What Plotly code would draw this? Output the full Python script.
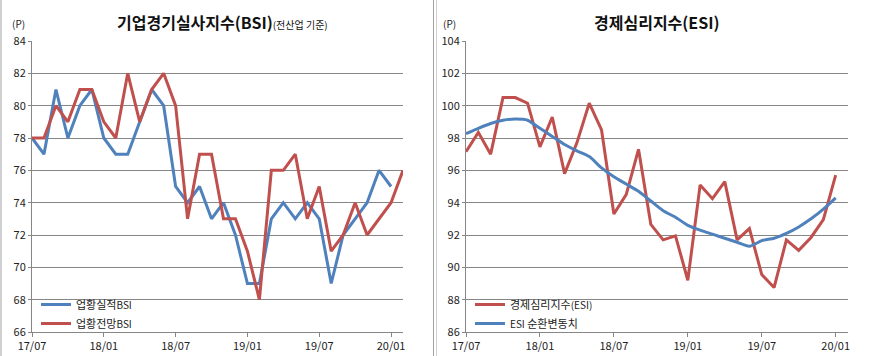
import plotly.graph_objects as go

months = ["17/07","17/08","17/09","17/10","17/11","17/12","18/01","18/02","18/03","18/04","18/05","18/06",
          "18/07","18/08","18/09","18/10","18/11","18/12","19/01","19/02","19/03","19/04","19/05","19/06",
          "19/07","19/08","19/09","19/10","19/11","19/12","20/01","20/02"]
tick_labels = ["17/07","18/01","18/07","19/01","19/07","20/01"]

bsi_actual = [78,77,81,78,80,81,78,77,77,79,81,80,75,74,75,73,74,72,69,69,73,74,73,74,73,69,72,73,74,76,75]
bsi_outlook = [78,78,80,79,81,81,79,78,82,79,81,82,80,73,77,77,73,73,71,68,76,76,77,73,75,71,72,74,72,73,74,76]

esi = [97.15,98.35,97.0,100.5,100.5,100.15,97.45,99.3,95.8,97.7,100.15,98.5,93.3,94.5,97.3,92.65,91.7,91.95,
       89.2,95.1,94.25,95.3,91.7,92.4,89.55,88.75,91.7,91.05,91.85,92.95,95.7]
esi_trend = [98.27,98.6,98.9,99.1,99.17,99.1,98.6,98.1,97.6,97.2,96.85,96.15,95.6,95.15,94.7,94.1,93.5,93.1,
             92.6,92.3,92.05,91.8,91.55,91.3,91.65,91.8,92.1,92.5,93.0,93.6,94.3]

BLUE = "#4F81BD"
RED = "#C0504D"
FONT = "Noto Sans CJK KR"
W, H = 869, 356

def px(x):
    return x / W

def py(y):
    return 1 - y / H

xdom1 = [px(32), px(403)]
xdom2 = [px(466), px(848)]
ydom = [py(332), py(41)]

fig = go.Figure()
fig.add_trace(go.Scatter(x=list(range(len(bsi_actual))), y=bsi_actual, mode="lines", name="업황실적<span style='font-size:10px'>BSI</span>",
                         line=dict(color=BLUE, width=3), xaxis="x", yaxis="y", legend="legend"))
fig.add_trace(go.Scatter(x=list(range(len(bsi_outlook))), y=bsi_outlook, mode="lines", name="업황전망<span style='font-size:10px'>BSI</span>",
                         line=dict(color=RED, width=3), xaxis="x", yaxis="y", legend="legend"))
fig.add_trace(go.Scatter(x=list(range(len(esi))), y=esi, mode="lines", name="경제심리지수<span style='font-size:10px'>(ESI)</span>",
                         line=dict(color=RED, width=3), xaxis="x2", yaxis="y2", legend="legend2"))
fig.add_trace(go.Scatter(x=list(range(len(esi_trend))), y=esi_trend, mode="lines", name="<span style='font-size:10px'>ESI</span> 순환변동치",
                         line=dict(color=BLUE, width=3, shape="spline", smoothing=0.6), xaxis="x2", yaxis="y2", legend="legend2"))

tickvals = [months.index(t) for t in tick_labels]
xcommon = dict(range=[0, 31], tickvals=tickvals, ticktext=tick_labels, showgrid=False, zeroline=False,
               showline=True, linecolor="#868686", linewidth=1, ticks="outside", ticklen=4, tickcolor="#868686",
               tickfont=dict(size=11, color="#222", family=FONT), automargin=False)
ycommon = dict(showgrid=True, gridcolor="#868686", gridwidth=1, zeroline=False, showline=True,
               linecolor="#868686", linewidth=1, ticks="outside", ticklen=3, tickcolor="#868686",
               tickfont=dict(size=11, color="#222", family=FONT), dtick=2, automargin=False)

fig.update_layout(
    width=W, height=H, margin=dict(l=0, r=0, t=0, b=0, autoexpand=False),
    paper_bgcolor="white", plot_bgcolor="white",
    font=dict(family=FONT, color="#222"),
    xaxis=dict(domain=xdom1, anchor="y", **xcommon),
    yaxis=dict(domain=ydom, anchor="x", range=[66, 84], **ycommon),
    xaxis2=dict(domain=xdom2, anchor="y2", **xcommon),
    yaxis2=dict(domain=ydom, anchor="x2", range=[86, 104], **ycommon),
    legend=dict(x=px(36), y=py(290), xanchor="left", yanchor="top", bgcolor="rgba(0,0,0,0)",
                font=dict(size=11, family=FONT), tracegroupgap=0, itemwidth=30),
    legend2=dict(x=px(470), y=py(290), xanchor="left", yanchor="top", bgcolor="rgba(0,0,0,0)",
                 font=dict(size=11, family=FONT), tracegroupgap=0, itemwidth=30),
    showlegend=True,
)

fig.add_annotation(xref="paper", yref="paper", x=px(222), y=py(22), xanchor="center", yanchor="middle",
                   text="<b>기업경기실사지수(BSI)</b><span style='font-size:10px'>(전산업 기준)</span>",
                   showarrow=False, font=dict(size=16, family=FONT, color="#111"))
fig.add_annotation(xref="paper", yref="paper", x=px(657), y=py(22), xanchor="center", yanchor="middle",
                   text="<b>경제심리지수(ESI)</b>", showarrow=False, font=dict(size=16, family=FONT, color="#111"))
fig.add_annotation(xref="paper", yref="paper", x=px(18), y=py(24), xanchor="center", yanchor="middle",
                   text="(P)", showarrow=False, font=dict(size=10, family=FONT, color="#222"))
fig.add_annotation(xref="paper", yref="paper", x=px(449), y=py(24), xanchor="center", yanchor="middle",
                   text="(P)", showarrow=False, font=dict(size=10, family=FONT, color="#222"))

# panel frames
fig.add_shape(type="line", xref="paper", yref="paper", x0=px(1), x1=px(1), y0=0, y1=1, line=dict(color="#A0A0A0", width=1))
fig.add_shape(type="line", xref="paper", yref="paper", x0=px(433.5), x1=px(433.5), y0=0, y1=1, line=dict(color="#A0A0A0", width=1))
fig.add_shape(type="line", xref="paper", yref="paper", x0=px(436.5), x1=px(436.5), y0=0, y1=1, line=dict(color="#D0D0D0", width=1))

fig.write_html("out.html", config={"displayModeBar": False},
               post_script="document.body.style.margin='0';document.body.style.overflow='hidden';")
